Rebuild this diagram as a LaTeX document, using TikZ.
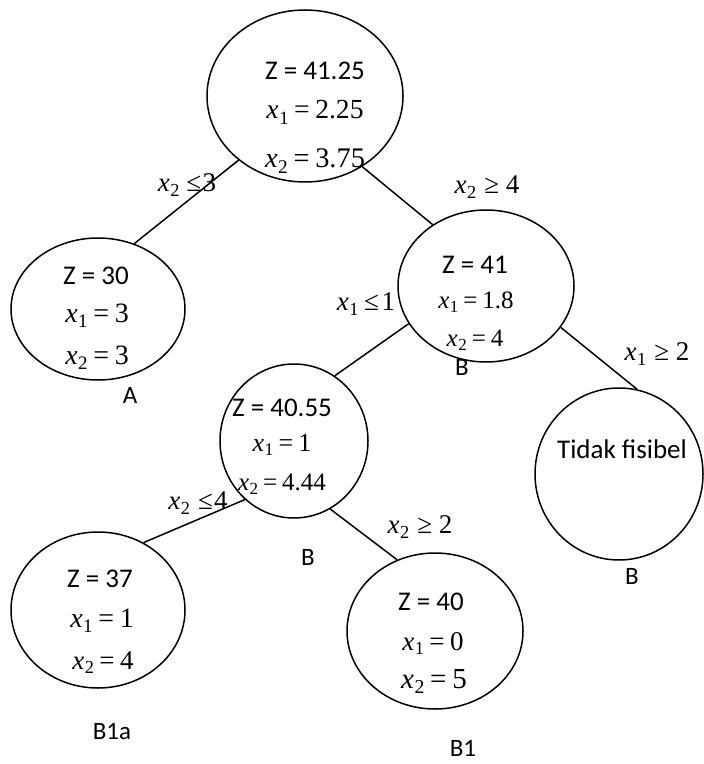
\documentclass[tikz,border=0pt]{standalone}
\usepackage{fontspec}
\usepackage{graphicx}
\setmainfont{Carlito}
\newfontfamily\eqf{Liberation Serif}
\usetikzlibrary{shapes.geometric}
\newcommand\xv[1]{\textit{x}\kern.02em\raisebox{-.4ex}{\scalebox{.68}{#1}}}
\newcommand\is{\kern.2em=\kern.2em}
\newcommand\fs[1]{\fontsize{#1}{#1}\selectfont}
\begin{document}
\begin{tikzpicture}[x=0.5pt, y=-0.5pt, line width=0.75pt,
  bb/.style={draw, ellipse, inner sep=0pt},
  zt/.style={anchor=base, font=\fs{13.5}},
  eq/.style={anchor=base, font=\eqf\fs{#1}},
  cons/.style={font=\eqf\fs{13.5}},
  tag/.style={font=\fs{12.5}}]
	\useasboundingbox (0,0) rectangle (704,764);
	% branch and bound nodes
	\node[bb, minimum width=98pt, minimum height=86pt] (root) at (305,96) {};
	\node[bb, minimum width=87pt, minimum height=71pt] (nA) at (98,309) {};
	\node[bb, minimum width=88pt, minimum height=76pt] (nB) at (486,286) {};
	\node[bb, minimum width=74pt, minimum height=77pt] (nC) at (294,441) {};
	\node[bb, minimum width=84pt, minimum height=86pt] (nT) at (619,474) {};
	\node[bb, minimum width=87pt, minimum height=78pt] (nD) at (98,610) {};
	\node[bb, minimum width=88pt, minimum height=78pt] (nE) at (435,631) {};
	% contents
	\node[zt] (rootZ) at (315,80) {Z = 41.25};
	\node[eq=13.8] (rootX1) at (315,119) {\xv{1}\is 2.25};
	\node[eq=14.2] (rootX2) at (315,168) {\xv{2}\is 3.75};
	\node[zt] (nAZ) at (96,285) {Z = 30};
	\node[eq=14] (nAX1) at (97,322) {\xv{1}\is 3};
	\node[eq=14] (nAX2) at (97,364) {\xv{2}\is 3};
	\node[zt] (nBZ) at (475,274) {Z = 41};
	\node[eq=12.5] (nBX1) at (476,308) {\xv{1}\is 1.8};
	\node[eq=12.5] (nBX2) at (475,346) {\xv{2}\is 4};
	\node[zt] (nCZ) at (282,416) {Z = 40.55};
	\node[eq=13] (nCX1) at (282,451) {\xv{1}\is 1};
	\node[eq=12.5] (nCX2) at (282,490) {\xv{2}\is 4.44};
	\node[zt] (nTZ) at (622,458) {Tidak fisibel};
	\node[zt] (nDZ) at (100,587) {Z = 37};
	\node[eq=14] (nDX1) at (102,627) {\xv{1}\is 1};
	\node[eq=13.5] (nDX2) at (103,669) {\xv{2}\is 4};
	\node[zt] (nEZ) at (431,610) {Z = 40};
	\node[eq=13.5] (nEX1) at (433,650) {\xv{1}\is 0};
	\node[eq=14.5] (nEX2) at (434,688) {\xv{2}\is 5};
	% branches
	\draw (root.224) -- (nA.61);
	\draw (root.-51) -- (nB.131);
	\draw (nB.206) -- (nC.58);
	\draw (nB.-29) -- (nT.78);
	\draw (nC.230) -- (nD.56);
	\draw (nC.-62) -- (nE.118);
	% constraints
	\node[cons] (c1) at (187,185) {\xv{2}\kern.25em≤\kern.05em3};
	\node[cons] (c2) at (487,187) {\xv{2}\kern.3em≥\kern.25em4};
	\node[cons] (c3) at (366,304) {\xv{1}\kern.2em≤\kern.1em1};
	\node[cons] (c4) at (657,354) {\xv{1}\kern.3em≥\kern.25em2};
	\node[cons] (c5) at (198,503) {\xv{2}\kern.3em≤\kern.05em4};
	\node[cons] (c6) at (420,527) {\xv{2}\kern.3em≥\kern.25em2};
	% labels
	\node[tag] (tA) at (130,395) {A};
	\node[tag] (tB) at (462,367) {B};
	\node[tag] (tC) at (308,557) {B};
	\node[tag] (tT) at (632,576) {B};
	\node[tag] (tD) at (112,732) {B1a};
	\node[tag] (tE) at (463,748) {B1};
\end{tikzpicture}
\end{document}
